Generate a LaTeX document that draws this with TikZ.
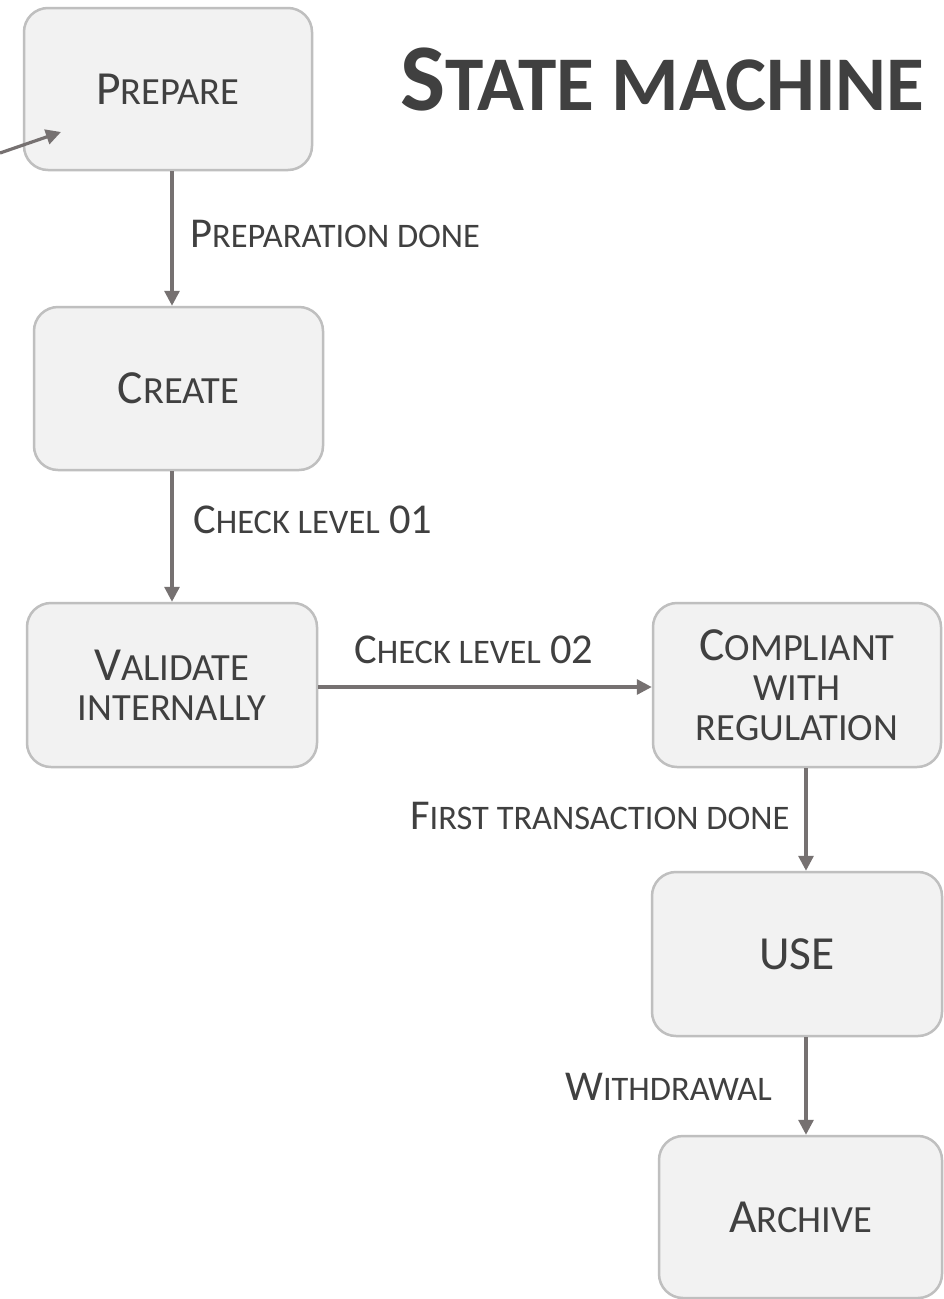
\documentclass[tikz,border=0pt]{standalone}
\usepackage{fontspec}
\setmainfont{Carlito}
\usetikzlibrary{arrows.meta}
\definecolor{txt}{HTML}{404040}
\definecolor{boxfill}{HTML}{F2F2F2}
\definecolor{boxline}{HTML}{BFBFBF}
\definecolor{arrowc}{HTML}{767171}
\makeatletter
\newcommand\lo[1]{{\fontsize{\strip@pt\dimexpr\f@size pt*81/100\relax}{\f@baselineskip}\selectfont #1}}
\makeatother
\newcommand\boxfont{\fontsize{47.5}{40}\selectfont}
\newcommand\labfont{\fontsize{42.5}{40}\selectfont}
\newcommand\titlefont{\fontsize{95.5}{100}\selectfont\bfseries}
\tikzset{
  state/.style={draw=boxline, line width=2.5pt, fill=boxfill, rounded corners=24pt,
    text=txt, align=center, font=\boxfont, inner sep=0pt},
  lab/.style={text=txt, font=\labfont, inner sep=0pt, anchor=base west},
  titlenode/.style={text=txt, font=\titlefont, inner sep=0pt, anchor=base west},
  arr/.style={draw=arrowc, line width=3.2pt, -{Triangle[length=15pt,width=15pt]}}
}
\begin{document}
\begin{tikzpicture}[x=1pt,y=-1pt]
\useasboundingbox[fill=white] (0,0) rectangle (943,1299);
% states
\node[state, minimum width=288pt, minimum height=162pt] (prep) at (168,89) {P\lo{REPARE}};
\node[state, minimum width=289pt, minimum height=163pt] (create) at (178.5,388.5) {C\lo{REATE}};
\node[state, minimum width=290pt, minimum height=164pt] (valid) at (172,685) {V\lo{ALIDATE}\\\lo{INTERNALLY}};
\node[state, minimum width=288pt, minimum height=164pt] (compl) at (797,685) {C\lo{OMPLIANT}\\\lo{WITH}\\\lo{REGULATION}};
\node[state, minimum width=290pt, minimum height=164pt] (use) at (797,954) {USE};
\node[state, minimum width=283pt, minimum height=162pt] (arch) at (800.5,1217) {A\lo{RCHIVE}};
% title
\node[titlenode] (title) at (400,110) {S\lo{TATE MACHINE}};
% labels
\node[lab] (l1) at (190,247) {P\lo{REPARATION DONE}};
\node[lab] (l2) at (193,533) {C\lo{HECK LEVEL} 01};
\node[lab] (l3) at (354,663) {C\lo{HECK LEVEL} 02};
\node[lab] (l4) at (410,829) {F\lo{IRST TRANSACTION DONE}};
\node[lab] (l5) at (565,1100) {W\lo{ITHDRAWAL}};
% connectors
\coordinate (inS) at (0,153);
\coordinate (inE) at (61,132);
\draw[arr] (inS) -- (inE);
\draw[arr] ([xshift=4pt]prep.south) -- ([xshift=-6.5pt]create.north);
\draw[arr] ([xshift=-6.5pt]create.south) -- (valid.north);
\draw[arr] ([yshift=-2pt]valid.east) -- ([yshift=-2pt]compl.west);
\draw[arr] ([xshift=9pt]compl.south) -- ([xshift=9pt]use.north);
\draw[arr] ([xshift=9pt]use.south) -- ([xshift=5.5pt]arch.north);
\end{tikzpicture}
\end{document}
